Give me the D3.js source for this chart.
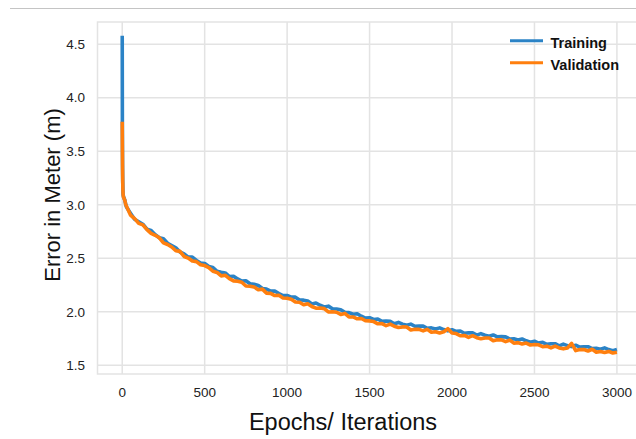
<!DOCTYPE html>
<html lang="en">
<head>
  <meta charset="UTF-8">
  <title>Training vs Validation Error</title>
  <script src="https://d3js.org/d3.v7.min.js"></script>
  <style>
    body { margin: 0; background: #fff; }
    .grid line { stroke: #e3e3e3; stroke-width: 1.5px; }
    .tick-label { font-family: 'Liberation Sans', Arial, sans-serif; font-size: 13.5px; fill: #222; }
    .axis-title { font-family: 'Liberation Sans', Arial, sans-serif; fill: #111; }
    .legend-label { font-family: 'Liberation Sans', Arial, sans-serif; font-size: 14.5px; font-weight: bold; fill: #111; }
  </style>
</head>
<body>
<div id="chart"></div>
<script>
  // epochs: dense at the start, then every 25
  const earlyEpochs = [0, 1, 2, 3, 4, 5, 6, 8, 10, 12, 15, 20];
  const epochs = earlyEpochs.concat(d3.range(25, 3001, 25));

  const earlyTraining = [4.58, 3.70, 3.36, 3.22, 3.145, 3.105, 3.09, 3.075, 3.068, 3.058, 3.047, 3.013];
  const earlyValidation = [3.776, 3.52, 3.33, 3.21, 3.14, 3.10, 3.085, 3.07, 3.065, 3.055, 3.045, 3.01];

  const trainingTail = [
    2.981, 2.922, 2.865, 2.842, 2.818, 2.772, 2.761, 2.721, 2.692, 2.682,
    2.641, 2.620, 2.599, 2.559, 2.542, 2.511, 2.512, 2.480, 2.456, 2.452,
    2.423, 2.414, 2.379, 2.369, 2.363, 2.330, 2.333, 2.307, 2.288, 2.291,
    2.263, 2.257, 2.247, 2.218, 2.212, 2.193, 2.195, 2.171, 2.151, 2.153,
    2.137, 2.137, 2.110, 2.109, 2.102, 2.074, 2.082, 2.061, 2.046, 2.053,
    2.029, 2.026, 2.020, 1.995, 1.993, 1.977, 1.982, 1.959, 1.942, 1.945,
    1.929, 1.933, 1.911, 1.914, 1.911, 1.889, 1.901, 1.885, 1.874, 1.885,
    1.865, 1.866, 1.866, 1.846, 1.850, 1.839, 1.850, 1.834, 1.822, 1.832,
    1.817, 1.821, 1.800, 1.804, 1.803, 1.782, 1.796, 1.781, 1.772, 1.784,
    1.766, 1.768, 1.766, 1.746, 1.748, 1.737, 1.746, 1.729, 1.716, 1.725,
    1.708, 1.715, 1.696, 1.702, 1.702, 1.682, 1.698, 1.684, 1.675, 1.688,
    1.671, 1.674, 1.674, 1.656, 1.660, 1.651, 1.663, 1.647, 1.637, 1.648
  ];

  const validationTail = [
    2.988, 2.904, 2.871, 2.826, 2.812, 2.768, 2.733, 2.715, 2.692, 2.644,
    2.629, 2.606, 2.571, 2.565, 2.517, 2.502, 2.475, 2.469, 2.440, 2.432,
    2.413, 2.379, 2.368, 2.336, 2.341, 2.310, 2.289, 2.285, 2.276, 2.241,
    2.239, 2.231, 2.207, 2.212, 2.175, 2.172, 2.152, 2.154, 2.129, 2.127,
    2.117, 2.092, 2.089, 2.066, 2.076, 2.050, 2.034, 2.035, 2.030, 1.999,
    2.001, 1.996, 1.976, 1.985, 1.952, 1.952, 1.935, 1.938, 1.916, 1.915,
    1.909, 1.888, 1.890, 1.871, 1.885, 1.865, 1.853, 1.859, 1.858, 1.831,
    1.837, 1.836, 1.822, 1.836, 1.809, 1.814, 1.803, 1.813, 1.842, 1.802,
    1.797, 1.776, 1.779, 1.761, 1.777, 1.758, 1.748, 1.755, 1.756, 1.730,
    1.738, 1.738, 1.722, 1.736, 1.707, 1.712, 1.699, 1.708, 1.690, 1.695,
    1.692, 1.674, 1.679, 1.663, 1.680, 1.662, 1.654, 1.662, 1.705, 1.638,
    1.647, 1.648, 1.634, 1.650, 1.623, 1.630, 1.620, 1.630, 1.615, 1.622
  ];

  const training = earlyTraining.concat(trainingTail);
  const validation = earlyValidation.concat(validationTail);

  const xTicks = [0, 500, 1000, 1500, 2000, 2500, 3000];
  const yTicks = [1.5, 2.0, 2.5, 3.0, 3.5, 4.0, 4.5];

  const series = [
    { name: 'Training', color: '#2b83c6', values: training },
    { name: 'Validation', color: '#ff7f0e', values: validation }
  ];

  const width = 636, height = 439;
  const plot = { left: 97.5, right: 640, top: 22, bottom: 374 };

  const svg = d3.select('#chart').append('svg')
    .attr('width', width)
    .attr('height', height);

  svg.append('rect').attr('width', width).attr('height', height).attr('fill', '#fff');

  // thin rule at the very top
  svg.append('line')
    .attr('x1', 10).attr('x2', width)
    .attr('y1', 8.5).attr('y2', 8.5)
    .attr('stroke', '#c4c4c4').attr('stroke-width', 1);

  const x = d3.scaleLinear().domain([-150, 3140]).range([plot.left, plot.right]);
  const y = d3.scaleLinear().domain([1.419, 4.708]).range([plot.bottom, plot.top]);

  // grid
  const grid = svg.append('g').attr('class', 'grid');
  grid.selectAll('.gx').data(xTicks).enter().append('line')
    .attr('x1', d => x(d)).attr('x2', d => x(d))
    .attr('y1', plot.top).attr('y2', plot.bottom);
  grid.selectAll('.gy').data(yTicks).enter().append('line')
    .attr('x1', plot.left).attr('x2', plot.right)
    .attr('y1', d => y(d)).attr('y2', d => y(d));

  // frame
  svg.append('rect')
    .attr('x', plot.left).attr('y', plot.top)
    .attr('width', plot.right - plot.left).attr('height', plot.bottom - plot.top)
    .attr('fill', 'none').attr('stroke', '#e3e3e3').attr('stroke-width', 1.5);

  // tick labels
  svg.selectAll('.ylab').data(yTicks).enter().append('text')
    .attr('class', 'tick-label')
    .attr('x', 85).attr('y', d => y(d))
    .attr('dy', '0.35em')
    .attr('text-anchor', 'end')
    .text(d => d.toFixed(1));

  svg.selectAll('.xlab').data(xTicks).enter().append('text')
    .attr('class', 'tick-label')
    .attr('x', d => x(d)).attr('y', 397)
    .attr('text-anchor', 'middle')
    .text(d => d);

  // axis titles
  svg.append('text')
    .attr('class', 'axis-title')
    .attr('x', 343).attr('y', 430)
    .attr('text-anchor', 'middle')
    .style('font-size', '23.5px')
    .text('Epochs/ Iterations');

  svg.append('text')
    .attr('class', 'axis-title')
    .attr('transform', 'translate(60,195) rotate(-90)')
    .attr('text-anchor', 'middle')
    .style('font-size', '22px')
    .text('Error in Meter (m)');

  // lines
  svg.append('clipPath').attr('id', 'clip')
    .append('rect')
    .attr('x', plot.left).attr('y', plot.top)
    .attr('width', plot.right - plot.left).attr('height', plot.bottom - plot.top);

  const line = d3.line()
    .x((d, i) => x(epochs[i]))
    .y(d => y(d));

  svg.append('g').attr('clip-path', 'url(#clip)')
    .selectAll('.series').data(series).enter().append('path')
    .attr('d', d => line(d.values))
    .attr('fill', 'none')
    .attr('stroke', d => d.color)
    .attr('stroke-width', 3.6)
    .attr('stroke-linejoin', 'round');

  // legend
  const legend = svg.append('g').selectAll('g').data(series).enter().append('g')
    .attr('transform', (d, i) => `translate(510,${40.7 + i * 22})`);
  legend.append('line')
    .attr('x1', 0).attr('x2', 33)
    .attr('stroke', d => d.color).attr('stroke-width', 3);
  legend.append('text')
    .attr('class', 'legend-label')
    .attr('x', 40.5).attr('y', 7.5)
    .text(d => d.name);
</script>
</body>
</html>
